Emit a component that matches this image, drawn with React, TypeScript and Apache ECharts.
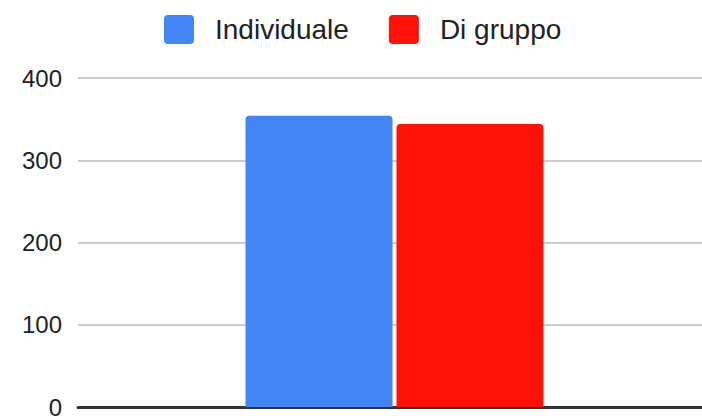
import React, { useEffect, useRef } from "react";
import * as echarts from "echarts";

const categories = [""];
const seriesNames = ["Individuale", "Di gruppo"];
const individuale = [354];
const diGruppo = [344];
const colors = ["#4285F4", "#FF1108"];

export default function App() {
  const ref = useRef<HTMLDivElement>(null);
  useEffect(() => {
    if (!ref.current) return;
    const chart = echarts.init(ref.current, undefined, { renderer: "svg" });
    chart.setOption({
      animation: false,
      backgroundColor: "#ffffff",
      textStyle: { fontFamily: "Liberation Sans, Arial, sans-serif" },
      legend: {
        left: 164,
        top: 15,
        padding: 0,
        itemWidth: 30,
        itemHeight: 29,
        itemGap: 40,
        icon: "path://M4,0H26A4,4 0 0 1 30,4V25A4,4 0 0 1 26,29H4A4,4 0 0 1 0,25V4A4,4 0 0 1 4,0Z",
        textStyle: { fontSize: 28, color: "#222222", padding: [0, 0, 0, 16] },
        data: seriesNames,
      },
      grid: { left: 78, right: 0, top: 78, bottom: 11, containLabel: false },
      xAxis: {
        type: "category",
        data: categories,
        axisTick: { show: false },
        axisLabel: { show: false },
        axisLine: { show: true, lineStyle: { color: "#333333", width: 3 } },
      },
      yAxis: {
        type: "value",
        min: 0,
        max: 400,
        interval: 100,
        axisLine: { show: false },
        axisTick: { show: false },
        axisLabel: { fontSize: 24, color: "#222222", margin: 16 },
        splitLine: { lineStyle: { color: "#cccccc", width: 2 } },
      },
      series: [
        {
          name: seriesNames[0],
          type: "bar",
          data: individuale,
          barWidth: 147,
          barGap: "2.7%",
          itemStyle: { color: colors[0], borderRadius: [4, 4, 0, 0] },
        },
        {
          name: seriesNames[1],
          type: "bar",
          data: diGruppo,
          barWidth: 147,
          barGap: "2.7%",
          itemStyle: { color: colors[1], borderRadius: [4, 4, 0, 0] },
        },
      ],
    });
    return () => chart.dispose();
  }, []);
  return (
    <div style={{ width: 702, height: 419, position: "absolute", left: 0, top: 0, overflow: "hidden", background: "#fff" }}>
      <div ref={ref} style={{ width: 711, height: 419 }} />
    </div>
  );
}
